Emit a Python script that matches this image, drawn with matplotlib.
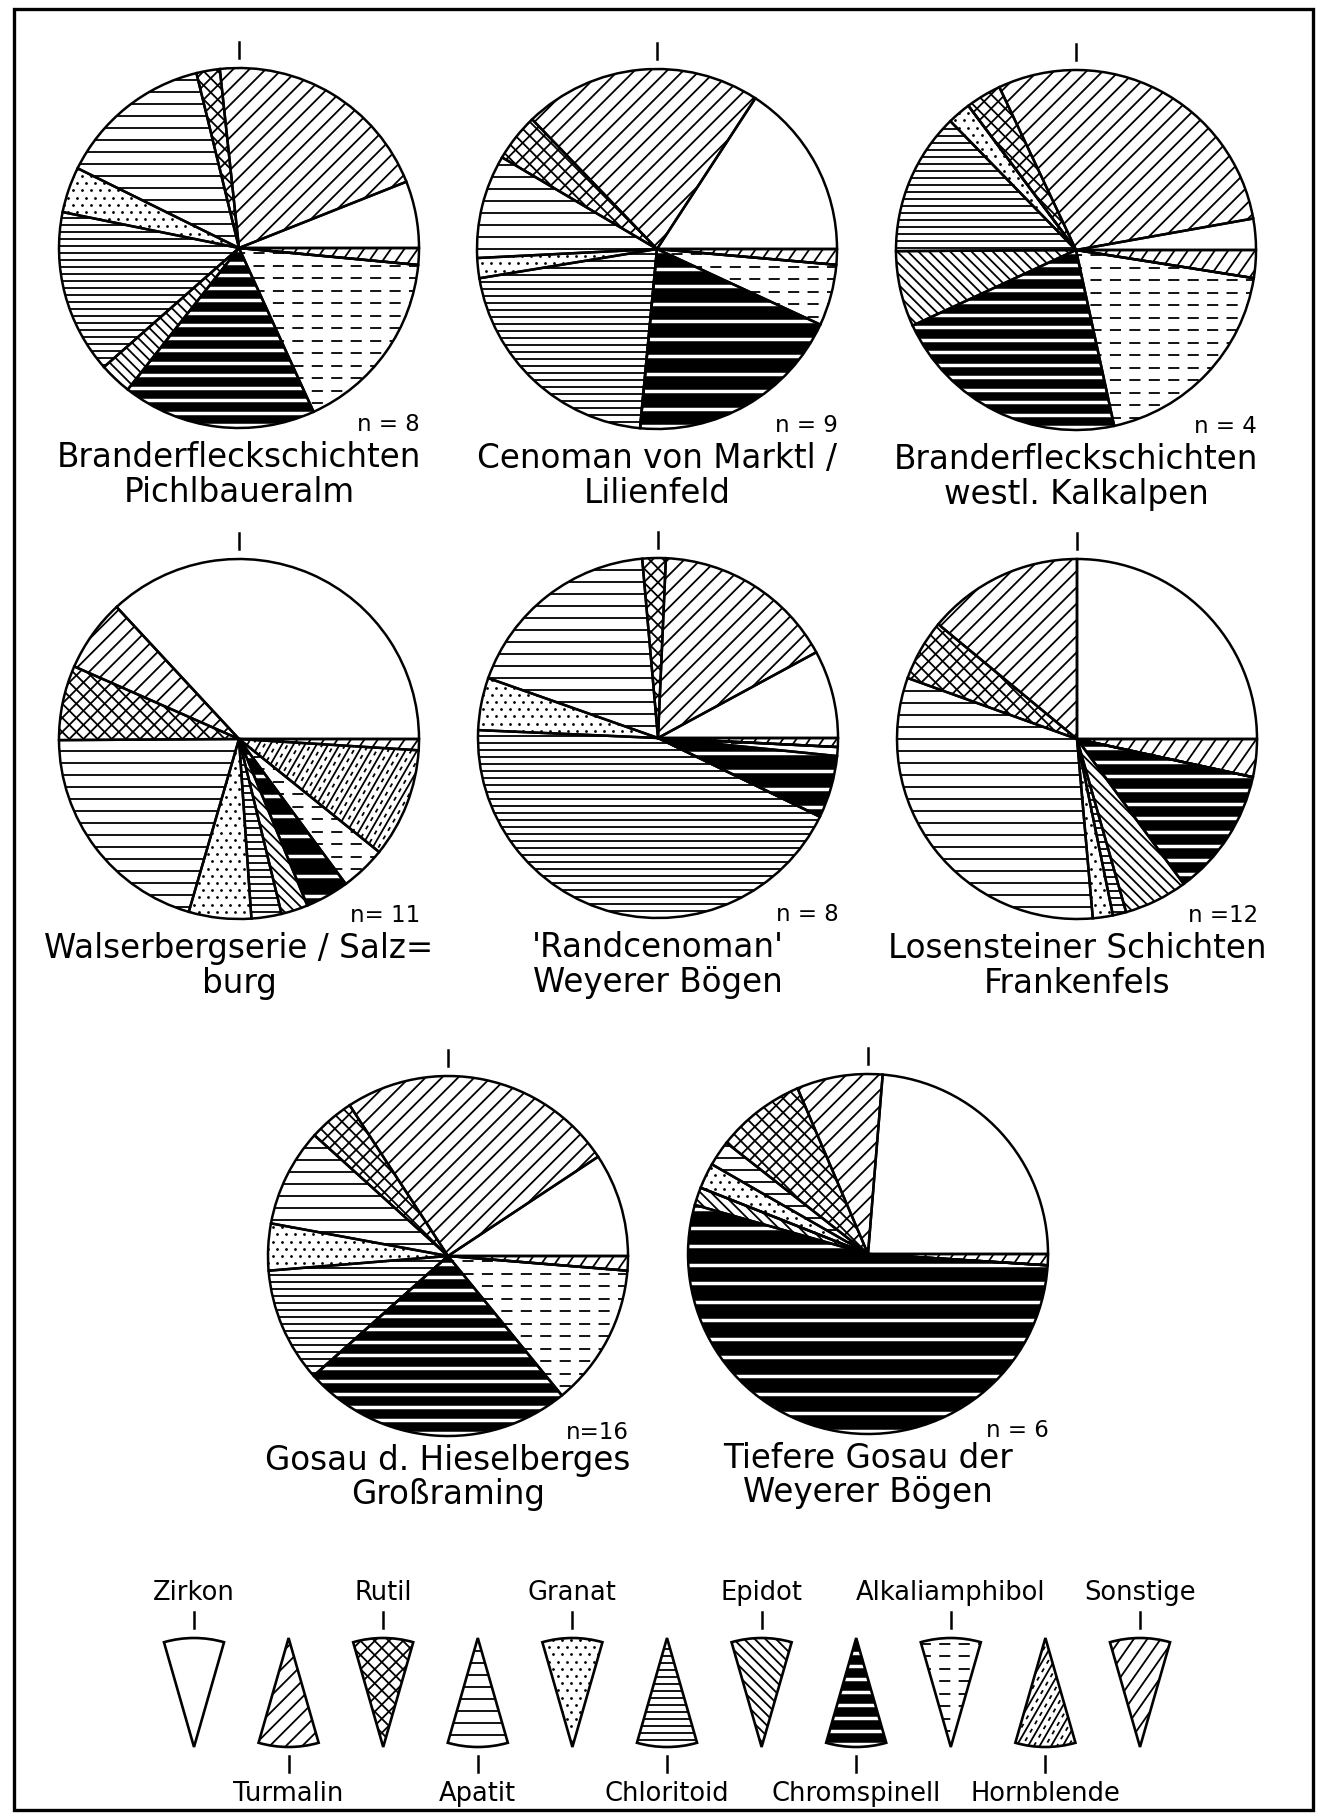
import numpy as np
import matplotlib
matplotlib.use("Agg")
import matplotlib.pyplot as plt
from matplotlib.patches import Wedge, Rectangle
from matplotlib.collections import LineCollection

W, H = 1321, 1817  # output size in pixels
plt.rcParams['font.family'] = ['DejaVu Sans']
plt.rcParams['lines.scale_dashes'] = False

minerals = ["Zirkon", "Turmalin", "Rutil", "Apatit", "Granat", "Chloritoid",
            "Epidot", "Chromspinell", "Alkaliamphibol", "Hornblende", "Sonstige"]

# heavy mineral spectra in percent, same order as minerals
pichlbaueralm = [6.0, 20.7, 2.1, 13.9, 4.1, 14.7, 2.9, 17.4, 16.7, 0.0, 1.5]
marktl = [15.8, 21.4, 4.3, 9.3, 1.8, 20.9, 0.0, 19.6, 5.5, 0.0, 1.4]
westl_kalkalpen = [2.8, 29.2, 3.2, 0.0, 2.1, 12.8, 6.8, 21.5, 19.1, 0.0, 2.5]
walserberg = [36.9, 6.5, 6.7, 20.4, 5.6, 2.7, 2.4, 3.9, 4.1, 9.8, 1.0]
randcenoman = [7.9, 16.4, 2.1, 18.2, 4.7, 43.5, 0.0, 5.6, 0.8, 0.0, 0.8]
losenstein = [25.0, 14.0, 5.5, 31.9, 1.8, 1.2, 5.7, 11.5, 0.0, 0.0, 3.4]
hieselberg = [9.3, 24.9, 4.1, 8.8, 4.2, 10.3, 0.0, 24.3, 12.8, 0.0, 1.3]
tiefere_gosau = [23.7, 7.7, 8.0, 2.3, 2.3, 0.0, 1.6, 53.4, 0.0, 0.0, 1.0]

samples = [pichlbaueralm, marktl, westl_kalkalpen, walserberg,
           randcenoman, losenstein, hieselberg, tiefere_gosau]
titles = [("Branderfleckschichten", "Pichlbaueralm"),
          ("Cenoman von Marktl /", "Lilienfeld"),
          ("Branderfleckschichten", "westl. Kalkalpen"),
          ("Walserbergserie / Salz=", "burg"),
          ("'Randcenoman'", "Weyerer Bögen"),
          ("Losensteiner Schichten", "Frankenfels"),
          ("Gosau d. Hieselberges", "Großraming"),
          ("Tiefere Gosau der", "Weyerer Bögen")]
n_labels = ["n = 8", "n = 9", "n = 4", "n= 11", "n = 8", "n =12", "n=16", "n = 6"]

# layout (pixels from top-left)
centers = [(239, 248), (657, 249), (1076, 250),
           (239, 739), (658, 738), (1077, 739),
           (448, 1256), (868, 1254)]
R = 180
chrom_gaps = [12.5, 17.5, 12.5, 20, 18, 14, 13, 18.5]

fig = plt.figure(figsize=(W / 100, H / 100), dpi=100)
ax = fig.add_axes([0, 0, 1, 1])


def stripes(cx, cy, r, angle, gap, shift=0.0):
    t = np.radians(angle)
    u = np.array([np.cos(t), np.sin(t)])
    nv = np.array([-np.sin(t), np.cos(t)])
    segs = []
    for d in np.arange(-r - gap + shift, r + gap, gap):
        p = np.array([cx, cy]) + d * nv
        segs.append([p - r * u, p + r * u])
    return segs


def add_lines(segs, clip, color="black", lw=1.3, ls="solid"):
    lc = LineCollection(segs, colors=color, linewidths=lw, linestyles=ls,
                        capstyle="butt", zorder=2)
    ax.add_collection(lc)
    lc.set_clip_path(clip)


def dress(w, name, cx, cy, r, chrom_gap=13):
    # fill one wedge with the pattern of its mineral
    if name == "Turmalin":
        add_lines(stripes(cx, cy, r, 45, 11.5), w)
    elif name == "Rutil":
        add_lines(stripes(cx, cy, r, 45, 10) + stripes(cx, cy, r, 135, 10), w)
    elif name == "Apatit":
        add_lines(stripes(cx, cy, r, 0, 12), w)
    elif name == "Granat":
        gap = 9
        pts = []
        for i, y in enumerate(np.arange(cy - r, cy + r, gap * 0.8)):
            for x in np.arange(cx - r + (i % 2) * gap / 2, cx + r, gap):
                pts.append((x, y))
        pts = np.array(pts)
        sc = ax.scatter(pts[:, 0], pts[:, 1], s=4, c="black", linewidths=0, zorder=2)
        sc.set_clip_path(w)
    elif name == "Chloritoid":
        add_lines(stripes(cx, cy, r, 0, 7), w)
    elif name == "Epidot":
        add_lines(stripes(cx, cy, r, 135, 7.5), w)
    elif name == "Chromspinell":
        w.set_facecolor("black")
        add_lines(stripes(cx, cy, r, 0, chrom_gap, 3), w, color="white", lw=2.5)
    elif name == "Alkaliamphibol":
        add_lines(stripes(cx, cy, r, 0, 12.5), w, ls=(0, (8, 6)))
    elif name == "Hornblende":
        add_lines(stripes(cx, cy, r, 60, 10), w)
        add_lines(stripes(cx, cy, r, 60, 10, 5), w, ls=(0, (3, 4)))
    elif name == "Sonstige":
        add_lines(stripes(cx, cy, r, 55, 11), w)


for k, vals in enumerate(samples):
    cx, cy = centers[k][0], H - centers[k][1]
    wedges, _ = ax.pie(vals, radius=R, center=(cx, cy), startangle=0,
                       counterclock=True,
                       wedgeprops=dict(facecolor="white", edgecolor="none"))
    for w, name in zip(wedges, minerals):
        dress(w, name, cx, cy, R, chrom_gaps[k])
    # outlines on top of the patterns
    ax.pie(vals, radius=R, center=(cx, cy), startangle=0, counterclock=True,
           wedgeprops=dict(fill=False, edgecolor="black", linewidth=1.8, zorder=3))
    ax.plot([cx, cx], [cy + R + 10, cy + R + 26], color="black", lw=1.8)
    ax.text(cx + R + 1, cy - R + 4, n_labels[k], ha="right", va="center",
            fontsize=16.5)
    dy1, dy2 = (204, 238) if k >= 6 else (209, 244)
    ax.text(cx, cy - dy1, titles[k][0], ha="center", va="center", fontsize=23.5)
    ax.text(cx, cy - dy2, titles[k][1], ha="center", va="center", fontsize=23.5)

# legend of the patterns
LR = 109
for i, name in enumerate(minerals):
    x = 194 + 94.6 * i
    if i % 2 == 0:
        apex = (x, H - 1747)
        w = Wedge(apex, LR, 74, 106, facecolor="white", edgecolor="none")
        ax.add_patch(w)
        dress(w, name, apex[0], apex[1], LR, 13)
        ax.add_patch(Wedge(apex, LR, 74, 106, fill=False, edgecolor="black",
                           linewidth=1.9, zorder=3))
        ax.plot([x, x], [H - 1612, H - 1628], color="black", lw=1.8)
        ax.text(x, H - 1593, name, ha="center", va="center", fontsize=18.5)
    else:
        apex = (x, H - 1638)
        w = Wedge(apex, LR, 254, 286, facecolor="white", edgecolor="none")
        ax.add_patch(w)
        dress(w, name, apex[0], apex[1], LR, 13)
        ax.add_patch(Wedge(apex, LR, 254, 286, fill=False, edgecolor="black",
                           linewidth=1.9, zorder=3))
        ax.plot([x, x], [H - 1756, H - 1772], color="black", lw=1.8)
        ax.text(x, H - 1794, name, ha="center", va="center", fontsize=18.5)

ax.add_patch(Rectangle((14, H - 1810), 1299, 1801, fill=False,
                       edgecolor="black", linewidth=2.4))

ax.set_xlim(0, W)
ax.set_ylim(0, H)
ax.set_aspect("auto")
ax.axis("off")
fig.savefig("out.png", dpi=100, facecolor="white")
